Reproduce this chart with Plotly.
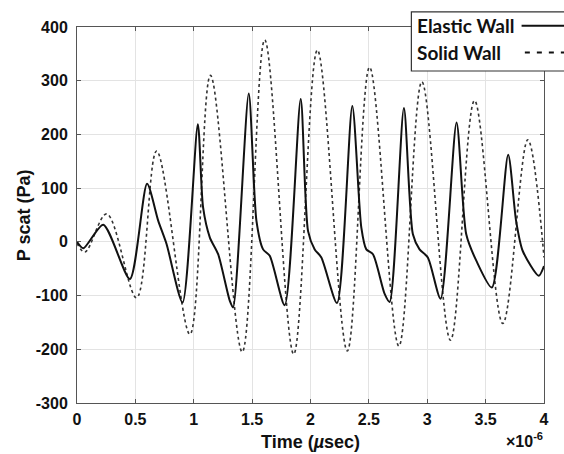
import plotly.graph_objects as go

# Time in microseconds (axis shown with x10^-6 factor)
t_elastic = [0.0, 0.054, 0.225, 0.453, 0.60, 0.696, 0.767, 0.904, 1.035, 1.08, 1.138, 1.209, 1.309,
             1.337, 1.471, 1.537, 1.594, 1.651, 1.779, 1.916, 1.979, 2.036, 2.093, 2.227,
             2.358, 2.435, 2.478, 2.535, 2.635, 2.678, 2.80, 2.877, 2.934, 3.005, 3.114,
             3.251, 3.334, 3.42, 3.553, 3.693, 3.761, 3.818, 3.955, 4.0]
p_elastic = [0, -12, 32, -69, 108, 39, -4, -113, 219, 64, 8, -23, -110,
             -122, 276, 39, -14, -26, -118, 266, 20, -14, -29, -114,
             253, 27, -14, -23, -97, -112, 249, 14, -14, -29, -106,
             222, 14, -35, -85, 162, 39, -17, -63, -45]

t_solid = [0.0, 0.068, 0.254, 0.51, 0.682, 0.967, 1.143, 1.415, 1.608, 1.856, 2.059, 2.315,
           2.506, 2.757, 2.954, 3.199, 3.405, 3.647, 3.861, 4.0]
p_solid = [-3, -19, 52, -104, 169, -172, 310, -205, 376, -209, 357, -203,
           325, -194, 298, -183, 263, -152, 190, -29]

x_ticks = [0, 0.5, 1, 1.5, 2, 2.5, 3, 3.5, 4]
x_tick_text = ["<b>0</b>", "<b>0.5</b>", "<b>1</b>", "<b>1.5</b>", "<b>2</b>",
               "<b>2.5</b>", "<b>3</b>", "<b>3.5</b>", "<b>4</b>"]
y_ticks = [-300, -200, -100, 0, 100, 200, 300, 400]
y_tick_text = ["<b>%d</b>" % v for v in y_ticks]

FONT = "Liberation Sans, Arial"

fig = go.Figure()
fig.add_trace(go.Scatter(x=t_solid, y=p_solid, mode="lines", name="Solid Wall",
                         line=dict(color="#333333", width=1.6, dash="dot", shape="spline", smoothing=1.0)))
fig.add_trace(go.Scatter(x=t_elastic, y=p_elastic, mode="lines", name="Elastic Wall",
                         line=dict(color="#111111", width=2, shape="spline", smoothing=0.7)))

axis_common = dict(showgrid=True, gridcolor="#e3e3e3", gridwidth=1, zeroline=False,
                   showline=True, linecolor="#555555", linewidth=1, mirror="ticks",
                   ticks="inside", ticklen=4, tickcolor="#555555",
                   tickfont=dict(family=FONT, size=16, color="#111111"))

fig.update_xaxes(range=[0, 4], tickvals=x_ticks, ticktext=x_tick_text, ticklabelstandoff=2,
                 **axis_common)
fig.update_yaxes(range=[-300, 400], tickvals=y_ticks, ticktext=y_tick_text, ticklabelstandoff=5,
                 **axis_common)

# Legend drawn MATLAB-style (text first, then line sample)
shapes = [
    dict(type="rect", xref="paper", yref="paper", x0=0.716, x1=1.06, y0=0.883, y1=1.040,
         fillcolor="white", line=dict(color="#333333", width=1.2), layer="above"),
    dict(type="line", xref="paper", yref="paper", x0=0.952, x1=1.06, y0=1.003, y1=1.003,
         line=dict(color="#111111", width=2), layer="above"),
    dict(type="line", xref="paper", yref="paper", x0=0.959, x1=1.06, y0=0.932, y1=0.932,
         line=dict(color="#111111", width=2, dash="5px,7px"), layer="above"),
]
annotations = [
    dict(text="<b>Elastic Wall</b>", xref="paper", yref="paper", x=0.724, y=1.003,
         xanchor="left", yanchor="middle", showarrow=False,
         font=dict(family="Lato", size=19, color="#111111")),
    dict(text="<b>Solid Wall</b>", xref="paper", yref="paper", x=0.724, y=0.932,
         xanchor="left", yanchor="middle", showarrow=False,
         font=dict(family="Lato", size=19, color="#111111")),
    dict(text="<b>Time (<i>µ</i>sec)</b>", xref="paper", yref="paper", x=0.5, y=-0.104,
         xanchor="center", yanchor="middle", showarrow=False,
         font=dict(family=FONT, size=18, color="#111111")),
    dict(text="<b>P scat (Pa)</b>", xref="paper", yref="paper", x=-0.113, y=0.5,
         xanchor="center", yanchor="middle", showarrow=False, textangle=-90,
         font=dict(family=FONT, size=18, color="#111111")),
    dict(text="<b>×10<sup>-6</sup></b>", xref="paper", yref="paper", x=1.002, y=-0.131,
         xanchor="right", yanchor="bottom", showarrow=False,
         font=dict(family=FONT, size=16, color="#111111")),
]

fig.update_layout(width=564, height=454, margin=dict(l=77, r=20, t=27, b=51),
                  paper_bgcolor="white", plot_bgcolor="white", showlegend=False,
                  shapes=shapes, annotations=annotations)

fig.write_html("out.html", config={"displayModeBar": False},
               post_script="document.body.style.margin='0px';document.body.style.overflow='hidden';")
